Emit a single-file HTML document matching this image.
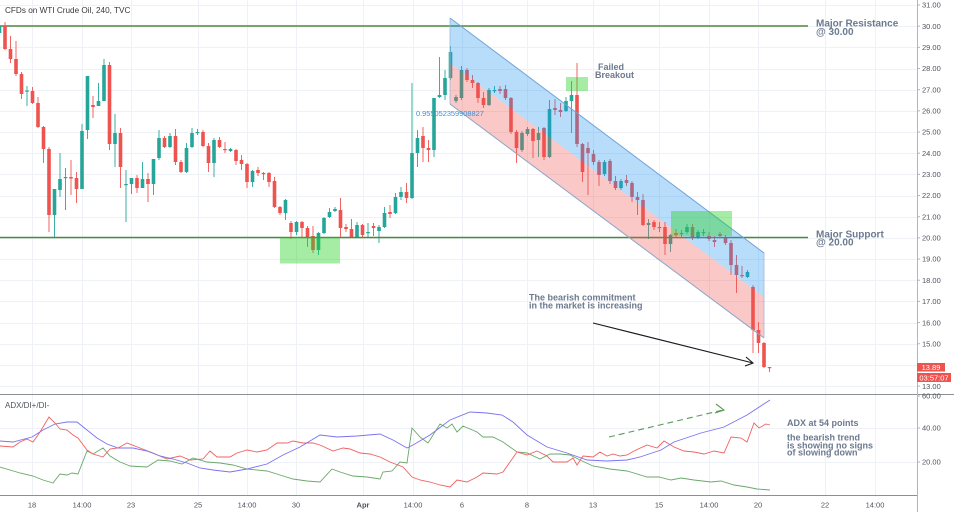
<!DOCTYPE html>
<html>
<head>
<meta charset="utf-8">
<style>
html,body{margin:0;padding:0;background:#fff;}
body{width:954px;height:512px;overflow:hidden;}
svg{display:block;font-family:"Liberation Sans",Arial,sans-serif;}
.ax{font-size:7.5px;fill:#50535e;}
.an{font-size:9px;font-weight:bold;fill:#6b7a8f;}
.anb{font-size:10px;font-weight:bold;fill:#6b7a8f;}
</style>
</head>
<body>
<svg id="s" width="954" height="512" viewBox="0 0 954 512" xmlns="http://www.w3.org/2000/svg">
<rect x="0" y="0" width="954" height="512" fill="#ffffff"/>
<g id="grid" stroke="#eef1f6" stroke-width="1"></g>
<!-- major horizontal lines -->
<line x1="0" y1="26" x2="808" y2="26" stroke="#4f8a3a" stroke-width="1.4"/>
<g id="candles"></g>
<line x1="0" y1="237.5" x2="808" y2="237.5" stroke="#4f8a3a" stroke-width="1.4"/>
<!-- channel -->
<polygon points="450,18 764,253 764,297 450,63" fill="rgba(33,150,243,0.32)" stroke="none"/>
<polygon points="450,63 764,297 764,338 450,104" fill="rgba(239,83,80,0.32)" stroke="none"/>
<line x1="450" y1="18" x2="764" y2="253" stroke="#6fa3d8" stroke-width="1"/>
<line x1="450" y1="104" x2="764" y2="338" stroke="#8aa6c8" stroke-width="1"/>
<line x1="764" y1="253" x2="764" y2="338" stroke="#9fb8d8" stroke-width="0.8"/>
<line x1="450" y1="18" x2="450" y2="104" stroke="#9fb8d8" stroke-width="0.8"/>
<!-- green boxes -->
<rect x="566" y="77" width="22" height="14" fill="rgba(40,210,40,0.42)"/>
<rect x="671" y="211" width="61" height="25" fill="rgba(40,210,40,0.42)"/>
<rect x="280" y="237.5" width="60" height="26" fill="rgba(40,210,40,0.42)"/>
<!-- black arrow -->
<line x1="593" y1="323" x2="753" y2="363" stroke="#1a1a1a" stroke-width="1.1"/>
<polyline points="746,357 753,363 745,366" fill="none" stroke="#1a1a1a" stroke-width="1.1"/>
<!-- texts -->
<text x="5" y="13" style="font-size:8.2px;fill:#3a3a3a;">CFDs on WTI Crude Oil, 240, TVC</text>
<text x="416" y="116" style="font-size:7.4px;fill:#3b8fe0;">0.955052359908827</text>
<text class="anb" x="816" y="26.5">Major Resistance</text>
<text class="anb" x="816" y="35">@ 30.00</text>
<text class="anb" x="816" y="237.3">Major Support</text>
<text class="anb" x="816" y="245.5">@ 20.00</text>
<text class="an" x="598" y="70">Failed</text>
<text class="an" x="595" y="78">Breakout</text>
<text class="an" x="529" y="300.7">The bearish commitment</text>
<text class="an" x="529" y="308.3">in the market is increasing</text>

<!-- panel separators / axes -->
<line x1="0" y1="394.5" x2="954" y2="394.5" stroke="#8c8f96" stroke-width="1"/>
<line x1="0" y1="495.5" x2="917" y2="495.5" stroke="#8c8f96" stroke-width="1"/>
<line x1="917.5" y1="0" x2="917.5" y2="512" stroke="#b2b5be" stroke-width="1"/>
<g id="axis"></g>

<!-- price boxes -->
<rect x="917" y="363" width="28" height="8.5" fill="#ef5350"/>
<text x="931" y="370" text-anchor="middle" style="font-size:7.5px;fill:#fff;">13.89</text>
<rect x="917" y="373" width="34" height="9" fill="#ef5350"/>
<text x="934" y="380.5" text-anchor="middle" style="font-size:7.5px;fill:#fff;">03:57:07</text>

<!-- ADX panel -->
<text x="5" y="408" style="font-size:8px;fill:#50535e;">ADX/DI+/DI-</text>
<polyline fill="none" stroke="#6aa86a" stroke-width="0.9" points="0,467 20,473 33,476 43,480 53,483 60,474 67,475 72,473 78,474 87,451 93,454 103,448 110,456 120,462 130,466 147,467 158,460 170,461 182,464 193,458 207,462 220,463 233,465 247,469 267,471 280,475 293,479 307,481 320,482 332,469 340,472 353,476 367,477 380,479 383,472 392,471 400,462 407,463 412,428 420,437 428,443 440,424 447,428 452,424 457,432 463,426 477,432 483,437 493,437 503,442 517,452 527,453 540,459 550,454 560,454 570,455 580,460 593,466 610,469 627,471 634,473 647,477 659,477 671,480 681,478 694,480 711,482 721,481 734,485 747,487 757,489 770,490"/>
<polyline fill="none" stroke="#f06262" stroke-width="0.9" points="0,446 13,447 20,442 27,439 33,442 40,432 49,417 55,423 60,429 67,430 73,435 78,438 87,450 93,454 103,457 110,449 118,448 127,443 140,448 153,453 167,459 180,456 190,460 203,459 210,451 217,457 230,457 237,453 247,450 257,452 267,450 277,443 287,443 293,441 303,443 313,443 320,445 333,451 343,448 350,449 360,453 370,454 380,457 390,462 403,467 412,477 420,480 430,482 440,485 450,487 457,480 467,482 477,477 483,473 497,474 503,472 510,462 517,452 527,455 537,451 547,456 553,462 567,462 573,458 577,465 583,456 593,457 600,452 607,456 613,454 620,456 627,455 634,451 647,445 657,448 664,441 674,447 684,451 694,452 704,454 714,451 724,453 731,437 741,438 747,442 754,423 759,428 766,424 770,425"/>
<polyline fill="none" stroke="#7b72f0" stroke-width="0.9" points="0,441 13,442 32,437 43,430 55,424 67,422 77,422 87,430 97,438 107,444 118,448 133,448 147,451 160,456 173,459 187,463 200,468 213,470 230,472 247,469 267,464 283,455 300,447 320,435 337,437 357,436 380,434 393,440 407,448 413,445 430,435 450,420 470,412 487,413 502,415 513,422 527,435 547,447 567,453 587,460 607,461 627,460 640,457 661,450 674,442 701,433 724,427 747,415 770,400"/>
<!-- dashed green arrow -->
<line x1="609" y1="437" x2="723" y2="410" stroke="#5a9a5a" stroke-width="1.1" stroke-dasharray="6,4"/>
<polyline points="716,404 724,410 715,413" fill="none" stroke="#5a9a5a" stroke-width="1.1"/>
<text class="an" x="787" y="426">ADX at 54 points</text>
<text class="an" x="787" y="440.7">the bearish trend</text>
<text class="an" x="787" y="448.3">is showing no signs</text>
<text class="an" x="787" y="455.5">of slowing down</text>
</svg>
<script>
(function(){
var NS="http://www.w3.org/2000/svg";
function el(n,a,p){var e=document.createElementNS(NS,n);for(var k in a)e.setAttribute(k,a[k]);p.appendChild(e);return e;}
var grid=document.getElementById('grid');
var vx=[32,82,131,198,247,296,363,413,462,527,593,659,709,758,825,875];
vx.forEach(function(x){el('line',{x1:x+.5,y1:0,x2:x+.5,y2:495},grid);});
function py(p){return 5+(31-p)*21.17;}
for(var p=13;p<=31;p++){var y=Math.round(py(p))+.5;el('line',{x1:0,y1:y,x2:917,y2:y},grid);}
[428,462].forEach(function(y){el('line',{x1:0,y1:y+.5,x2:917,y2:y+.5},grid);});
var ax=document.getElementById('axis');
for(var p=13;p<=31;p++){
  if(p==14)continue;
  var y=py(p);
  el('line',{x1:917,y1:y,x2:920,y2:y,stroke:'#b2b5be','stroke-width':1},ax);
  var t=el('text',{x:922,y:y+2.7,'class':'ax'},ax);t.textContent=p.toFixed(2);
}
[[60,396],[40,428],[20,462]].forEach(function(a){
  el('line',{x1:917,y1:a[1],x2:920,y2:a[1],stroke:'#b2b5be','stroke-width':1},ax);
  var t=el('text',{x:922,y:a[1]+2.7,'class':'ax'},ax);t.textContent=a[0].toFixed(2);
});
var xl=[[32,'18'],[82,'14:00'],[131,'23'],[198,'25'],[247,'14:00'],[296,'30'],[363,'Apr'],[413,'14:00'],[462,'6'],[527,'8'],[593,'13'],[659,'15'],[709,'14:00'],[758,'20'],[825,'22'],[875,'14:00']];
xl.forEach(function(a){var t=el('text',{x:a[0],y:507.5,'text-anchor':'middle','class':'ax'},ax);t.textContent=a[1];if(a[1]=='Apr')t.setAttribute('font-weight','bold');});
var D=[
[33,26,24,36,'g'],[26,49,22,50,'r'],[49,59,36,63,'r'],[59,74,41,76,'r'],[74,94,72,99,'r'],
[91.5,90.5,86,106,'g'],[91,103,87,104,'r'],[103,127,97,128,'r'],[127,149,126,163,'r'],[149,215,147,232,'r'],
[215,189,189,237,'g'],[190,179,153,197,'g'],[178,177,168,210,'g'],[177,178.5,160,195,'r'],[178,189,172,203,'r'],
[189,131,124,189,'g'],[130,76,76,139,'g'],[105,107,96,118,'r'],[106,101,83,106,'g'],[101,65,59,101,'g'],
[65,144,62,150,'r'],[144,133,114,167,'g'],[133,167,128,188,'r'],[185,184,170,222,'g'],[184,178,178,194,'g'],
[178,188,175,193,'r'],[188,179,162,188,'g'],[179,184,173,202,'r'],[184,159,159,195,'g'],[158,138,130,160,'g'],
[138,147,136,148,'r'],[147,136,133,148,'g'],[136,162,129,165,'r'],[162,172,160,173,'r'],[172,148,143,173,'g'],
[147,133,128,148,'g'],[133,132,129,135,'g'],[132,146,130,147,'r'],[146,163,143,172,'r'],[163,140,138,177,'g'],
[140,147,137,148,'r'],[149,150,142,153,'r'],[151,149,148,152,'g'],[150,161,149,165,'r'],[160,164,155,170,'r'],
[164,182,163,188,'r'],[182,171,170,187,'g'],[170,173,167,176,'r'],[173,174,172,180,'r'],[173,182,172,187,'r'],
[181,207,177,208,'r'],[207,213,206,215,'r'],[213,200,199,220,'g'],[223,232,221,239,'r'],[232,222,221,235,'g'],
[222,228,221,237,'r'],[228,237,226,247,'r'],[236,250,226,253,'r'],[250,233,232,255,'g'],[233,218,217,234,'g'],
[217,212,208,218,'g'],[211,209,207,212,'g'],[210,228,198,237,'r'],[227,229,224,232,'r'],[229,237,219,238,'r'],
[237,225,222,238,'g'],[225,235,224,238,'r'],[233,232,223,237,'g'],[226,228,223,236,'r'],[231,227,225,243,'g'],
[227,213,207,228,'g'],[212,214,205,218,'r'],[213,197,193,214,'g'],[197,192,187,200,'g'],[192,198,183,203,'r'],
[198,153,83,199,'g'],[153,138,130,167,'g'],[136,148,127,162,'r'],[148,150,140,162,'r'],[150,98,98,157,'g'],
[97,95,57,98,'g'],[95,78,70,100,'g'],[78,52,46,80,'g'],[101,97,95,103,'g'],[98,70,66,100,'g'],
[70,80,68,82,'r'],[80,83,75,88,'r'],[83,98,82,103,'r'],[98,105,92,108,'r'],[105,90,88,106,'g'],
[91,90,86,93,'g'],[89,91,86,94,'r'],[89,98,85,100,'r'],[98,132,97,134,'r'],[132,148,130,163,'r'],
[150,133,131,152,'g'],[134,129,127,136,'g'],[129,141,128,158,'r'],[140,133,127,157,'g'],[128,157,127,160,'r'],
[157,109,100,158,'g'],[108,110,99,115,'r'],[110,112,103,117,'r'],[111,101,97,112,'g'],[101,95,81,133,'g'],
[95,144,63,147,'r'],[144,172,143,182,'r'],[148,153,142,195,'r'],[154,162,150,165,'r'],[162,175,160,186,'r'],
[174,162,160,176,'g'],[161,181,159,184,'r'],[181,188,176,190,'r'],[188,181,179,190,'g'],[180,183,175,186,'r'],
[183,197,181,202,'r'],[197,200,192,215,'r'],[200,225,194,226,'r'],[225,223,219,239,'g'],[222,227,220,230,'r'],
[227,228,222,232,'r'],[227,244,222,255,'r'],[244,235,234,252,'g'],[233,235,229,238,'r'],[234,233,230,238,'g'],
[232,227,224,234,'g'],[227,238,224,240,'r'],[237,232,230,239,'g'],[233,232,229,236,'g'],[236,239,232,241,'r'],
[240,242,236,247,'r'],[234,236,232,238,'r'],[237,243,235,245,'r'],[243,265,240,275,'r'],[265,275,255,293,'r'],
[275,276,266,278,'r'],[277,272,270,278,'g'],[287,330,285,353,'r'],[330,343,322,353,'r'],[343,367,342,368,'r'],
[367,368,367,372,'r']
];
var cg=document.getElementById('candles');
D.forEach(function(d,i){
  var x=-0.5+i*5.5;
  var col=d[4]=='g'?'#26a69a':'#ef5350';
  el('line',{x1:x,y1:d[2],x2:x,y2:d[3],stroke:col,'stroke-width':0.9},cg);
  var top=Math.min(d[0],d[1]),h=Math.max(Math.abs(d[1]-d[0]),1.2);
  el('rect',{x:x-1.8,y:top,width:3.6,height:h,fill:col},cg);
});
})();
</script>
</body>
</html>
